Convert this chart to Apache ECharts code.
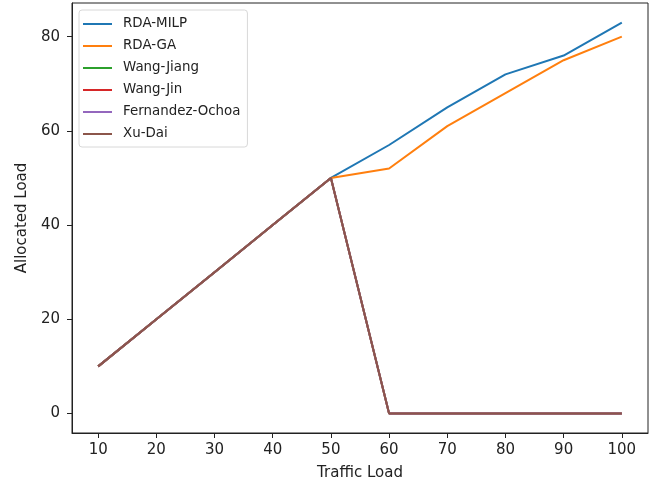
<!DOCTYPE html>
<html>
<head>
<meta charset="utf-8">
<script src="https://cdn.jsdelivr.net/npm/echarts@6/dist/echarts.min.js"></script>
<style>
  html, body { margin: 0; padding: 0; background: #fff; }
  #chart { width: 656px; height: 487px; }
</style>
</head>
<body>
<div id="chart"></div>
<script>
// Traffic load levels on the x axis
const trafficLoad = [10, 20, 30, 40, 50, 60, 70, 80, 90, 100];

// Allocated load for each allocation scheme
const rdaMilp = [10, 20, 30, 40, 50, 57, 65, 72, 76, 83];
const rdaGa = [10, 20, 30, 40, 50, 52, 61, 68, 75, 80];
const wangJiang = [10, 20, 30, 40, 50, 0, 0, 0, 0, 0];
const wangJin = [10, 20, 30, 40, 50, 0, 0, 0, 0, 0];
const fernandezOchoa = [10, 20, 30, 40, 50, 0, 0, 0, 0, 0];
const xuDai = [10, 20, 30, 40, 50, 0, 0, 0, 0, 0];

const seriesNames = ['RDA-MILP', 'RDA-GA', 'Wang-Jiang', 'Wang-Jin', 'Fernandez-Ochoa', 'Xu-Dai'];
const seriesValues = [rdaMilp, rdaGa, wangJiang, wangJin, fernandezOchoa, xuDai];
const seriesColors = ['#1f77b4', '#ff7f0e', '#2ca02c', '#d62728', '#9467bd', '#8c564b'];

// Tick labels
const xTicks = [10, 20, 30, 40, 50, 60, 70, 80, 90, 100];
const yTicks = [0, 20, 40, 60, 80];

const font = 'DejaVu Sans';
const chart = echarts.init(document.getElementById('chart'), null, { renderer: 'canvas' });

const series = seriesNames.map((name, i) => ({
  name: name,
  type: 'line',
  data: trafficLoad.map((x, j) => [x, seriesValues[i][j]]),
  symbol: 'none',
  lineStyle: { width: 2, color: seriesColors[i] },
  itemStyle: { color: seriesColors[i] },
  emphasis: { disabled: true },
  animation: false
}));

chart.setOption({
  backgroundColor: '#fff',
  animation: false,
  grid: {
    left: 72, right: 8, top: 3, bottom: 54,
    show: true, borderColor: '#222', borderWidth: 1, backgroundColor: 'transparent'
  },
  legend: {
    orient: 'vertical',
    left: 79, top: 10,
    padding: [6, 7, 5, 4],
    backgroundColor: '#fff',
    borderColor: '#d8d8d8', borderWidth: 1, borderRadius: 3,
    icon: 'rect',
    itemWidth: 29, itemHeight: 2,
    itemGap: 6,
    textStyle: { fontFamily: font, fontSize: 13.4, color: '#222', lineHeight: 16, padding: [0, 0, 0, 6] },
    data: seriesNames
  },
  xAxis: {
    type: 'value',
    min: 5.5, max: 104.5,
    name: 'Traffic Load',
    nameLocation: 'middle',
    nameGap: 33,
    nameTextStyle: { fontFamily: font, fontSize: 15, color: '#222' },
    splitLine: { show: false },
    axisLine: { show: true, onZero: false, lineStyle: { color: '#222', width: 1 } },
    axisTick: { show: true, length: 5, inside: false, customValues: xTicks, lineStyle: { color: '#222' } },
    axisLabel: { customValues: xTicks, margin: 10, fontFamily: font, fontSize: 15, color: '#222' }
  },
  yAxis: {
    type: 'value',
    min: -4.15, max: 87.15,
    name: 'Allocated Load',
    nameLocation: 'middle',
    nameGap: 41,
    nameTextStyle: { fontFamily: font, fontSize: 15, color: '#222' },
    splitLine: { show: false },
    axisLine: { show: true, onZero: false, lineStyle: { color: '#222', width: 1 } },
    axisTick: { show: true, length: 5, inside: false, customValues: yTicks, lineStyle: { color: '#222' } },
    axisLabel: { customValues: yTicks, margin: 12, fontFamily: font, fontSize: 15, color: '#222' }
  },
  series: series
});
</script>
</body>
</html>
